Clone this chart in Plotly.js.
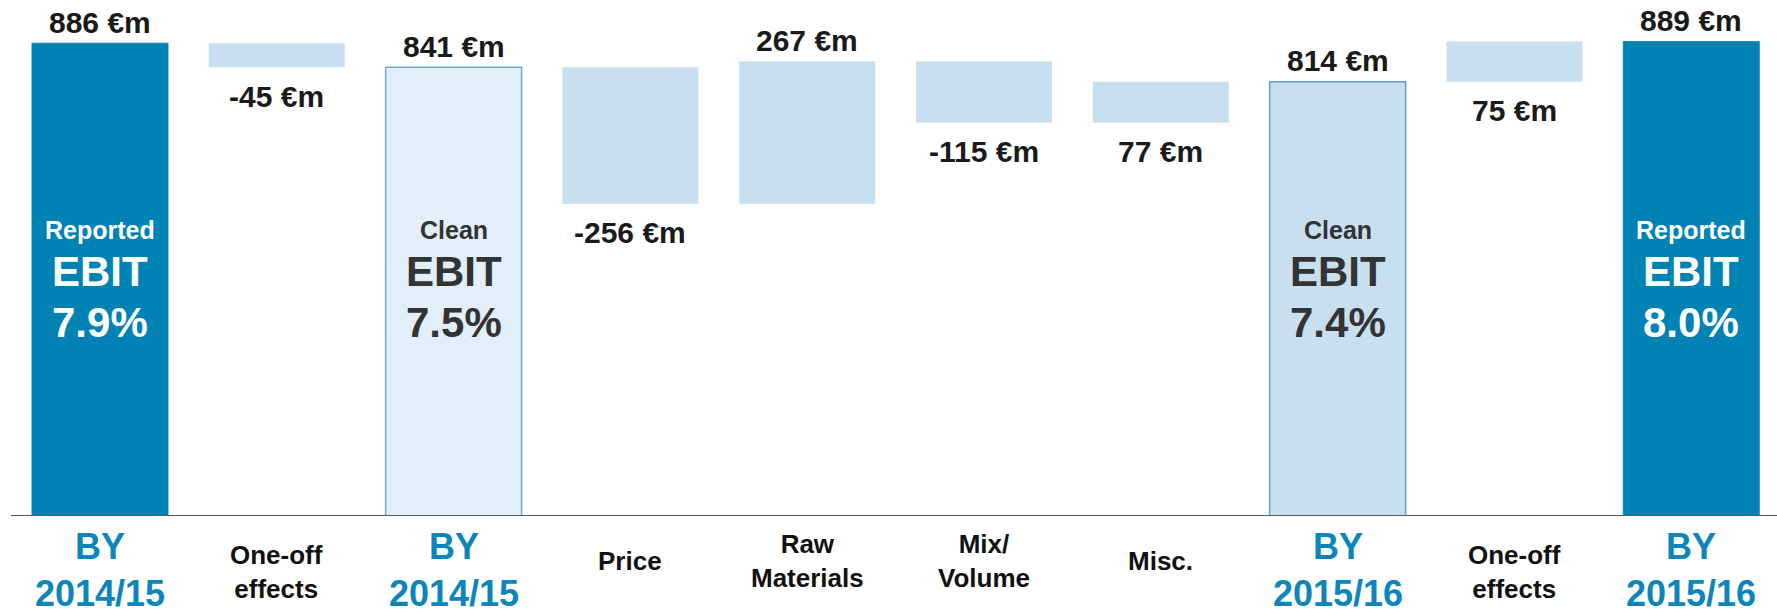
<!DOCTYPE html>
<html>
<head>
<meta charset="utf-8">
<script src="https://cdn.plot.ly/plotly-3.0.1.min.js"></script>
<style>
  html, body { margin: 0; padding: 0; background: #ffffff; }
  #chart { width: 1777px; height: 613px; }
</style>
</head>
<body>
<div id="chart"></div>
<script>
// ---------- data ----------
const categories = ['BY<br>2014/15', 'One-off<br>effects', 'BY<br>2014/15', 'Price', 'Raw<br>Materials',
                    'Mix/<br>Volume', 'Misc.', 'BY<br>2015/16', 'One-off<br>effects', 'BY<br>2015/16'];
const values     = [886, -45, 841, -256, 267, -115, 77, 814, 75, 889];
const measures   = ['total', 'relative', 'total', 'relative', 'relative', 'relative', 'relative', 'total', 'relative', 'total'];
const barKinds   = ['reported', 'delta', 'clean', 'delta', 'delta', 'delta', 'delta', 'clean2', 'delta', 'reported'];
const labelSide  = ['above', 'below', 'above', 'below', 'above', 'below', 'below', 'above', 'below', 'above'];
const tickKinds  = ['by', 'low', 'by', 'plain', 'plain', 'plain', 'plain', 'by', 'low', 'by'];
const innerTitle = ['Reported', '', 'Clean', '', '', '', '', 'Clean', '', 'Reported'];
const innerKpi   = ['EBIT', '', 'EBIT', '', '', '', '', 'EBIT', '', 'EBIT'];
const innerPct   = ['7.9%', '', '7.5%', '', '', '', '', '7.4%', '', '8.0%'];

// ---------- styles ----------
const FONT = '"Liberation Sans", Arial, Helvetica, sans-serif';
const barStyle = {
  reported: { fill: '#0082B4', line: '#0A86B8', lw: 1,   text: '#FFFFFF' },
  delta:    { fill: '#C8DFEF', line: '#C8DFEF', lw: 0,   text: '#333333' },
  clean:    { fill: '#E2EFF8', line: '#6AAAD4', lw: 1.5, text: '#333333' },
  clean2:   { fill: '#C8DFEF', line: '#5DA2D0', lw: 1.5, text: '#333333' }
};
const tickStyle = {
  by:    { color: '#0C86BA', size: 36, shift: -54 },
  low:   { color: '#111111', size: 26, shift: -56 },
  plain: { color: '#111111', size: 26, shift: -45 }
};

// ---------- build waterfall geometry from data ----------
const xs = categories.map((_, i) => i);
const bases = [], heights = [];
let running = 0;
values.forEach((v, i) => {
  if (measures[i] === 'total') {
    bases.push(0); heights.push(v); running = v;
  } else {
    const start = running, end = running + v;
    bases.push(Math.min(start, end)); heights.push(Math.abs(v)); running = end;
  }
});

const trace = {
  type: 'bar',
  x: xs,
  y: heights,
  base: bases,
  width: 0.769,
  marker: {
    color: barKinds.map(k => barStyle[k].fill),
    line: { color: barKinds.map(k => barStyle[k].line), width: barKinds.map(k => barStyle[k].lw) }
  },
  hoverinfo: 'none',
  showlegend: false
};

const annotations = [];
// value labels
values.forEach((v, i) => {
  const above = labelSide[i] === 'above';
  annotations.push({
    x: xs[i], xref: 'x',
    y: above ? bases[i] + heights[i] : bases[i], yref: 'y',
    yanchor: 'middle', xanchor: 'center',
    yshift: above ? 21 : -29,
    text: v + ' €m', showarrow: false,
    font: { family: FONT, size: 30, color: '#1a1a1a', weight: 'bold' }
  });
});
// category labels
categories.forEach((c, i) => {
  const s = tickStyle[tickKinds[i]];
  annotations.push({
    x: xs[i], xref: 'x', y: 0, yref: 'paper',
    yanchor: 'middle', xanchor: 'center', yshift: s.shift,
    text: '<b>' + c + '</b>', showarrow: false,
    font: { family: FONT, size: s.size, color: s.color }
  });
});
// text inside total bars
categories.forEach((c, i) => {
  if (!innerTitle[i]) return;
  const col = barStyle[barKinds[i]].text;
  [[innerTitle[i], 25, -230], [innerKpi[i], 42, -271], [innerPct[i], 42, -322]].forEach(([t, sz, sh]) => {
    annotations.push({
      x: xs[i], xref: 'x', y: 1, yref: 'paper',
      yanchor: 'middle', xanchor: 'center', yshift: sh,
      text: '<b>' + t + '</b>', showarrow: false,
      font: { family: FONT, size: sz, color: col }
    });
  });
});

const layout = {
  width: 1777, height: 613,
  margin: { l: 0, r: 0, t: 0, b: 97, pad: 0 },
  paper_bgcolor: '#ffffff', plot_bgcolor: '#ffffff',
  font: { family: FONT },
  xaxis: { range: [-0.5656, 9.485], showgrid: false, zeroline: false, showticklabels: false,
           showline: false, ticks: '', fixedrange: true },
  yaxis: { range: [0, 967], visible: false, showgrid: false, zeroline: false, fixedrange: true },
  shapes: [{
    type: 'line', xref: 'paper', yref: 'y', x0: 0.0062, x1: 1, y0: 0, y1: 0,
    line: { color: '#5a5a5a', width: 2 }
  }],
  annotations: annotations,
  showlegend: false
};

Plotly.newPlot('chart', [trace], layout, { displayModeBar: false, staticPlot: true });
</script>
</body>
</html>
